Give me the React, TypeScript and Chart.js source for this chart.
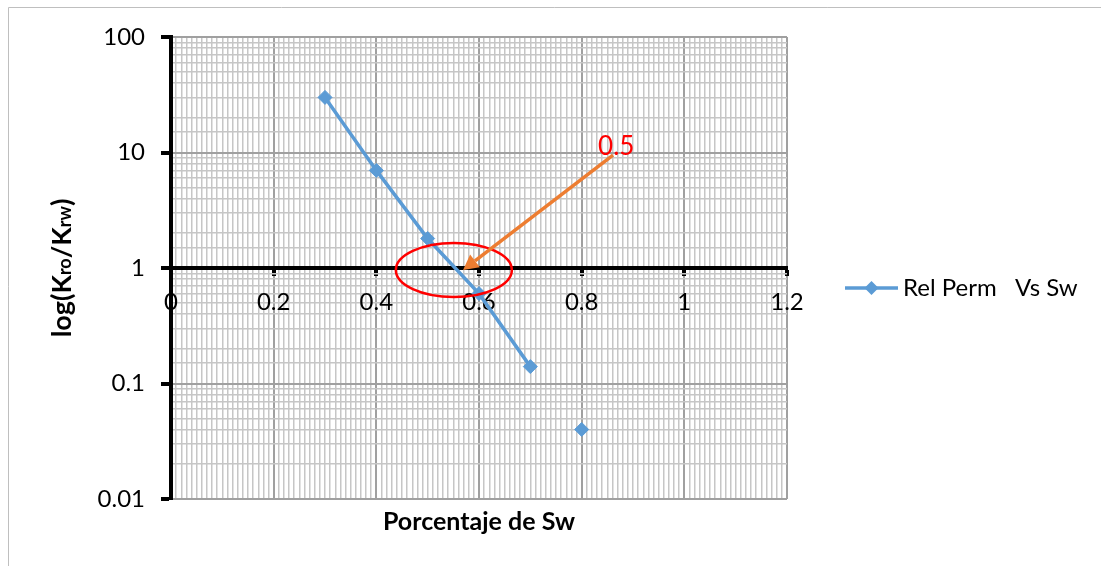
import React, { useEffect, useRef } from 'react';
import { Chart, registerables } from 'chart.js';

Chart.register(...registerables);

// ---- data ----
const swValues = [0.3, 0.4, 0.5, 0.6, 0.7, 0.8];
const krRatio = [30, 7, 1.8, 0.6, 0.14, 0.04];
const segmentDrawn = [true, true, true, true, false];
const seriesLabel = 'Rel Perm   Vs Sw';
const xTickLabels = ['0', '0.2', '0.4', '0.6', '0.8', '1', '1.2'];
const yTickLabels = ['0.01', '0.1', '1', '10', '100'];
const xTitle = 'Porcentaje de Sw';
const yTitleParts: [string, boolean][] = [
  ['log(K', false],
  ['ro', true],
  ['/K', false],
  ['rw', true],
  [')', false],
];
const calloutText = '0.5';

// ---- annotation anchors (data units) ----
const ellipseCenter = { x: 0.551, y: 0.96 };
const ellipseHalfX = 0.113; // x units
const ellipseHalfDecades = 0.234; // log decades
const arrowFrom = { x: 0.861, y: 9.5 };
const arrowTo = { x: 0.569, y: 0.96 };
const calloutAt = { x: 0.832, y: 11.2 };

const BLUE = '#5B9BD5';
const FONT = 'Lato, "Open Sans", sans-serif';

const isMajorX = (v: number) => Math.round(v * 100) % 20 === 0;
const isDecade = (v: number) => {
  const l = Math.log10(v);
  return Math.abs(l - Math.round(l)) < 1e-6;
};

const decorPlugin = {
  id: 'decor',
  beforeDraw(chart: any) {
    const ctx = chart.ctx;
    ctx.save();
    ctx.strokeStyle = '#bfbfbf';
    ctx.lineWidth = 1;
    ctx.beginPath();
    ctx.moveTo(8.5, 566);
    ctx.lineTo(8.5, 7.5);
    ctx.lineTo(1101, 7.5);
    ctx.stroke();
    ctx.restore();
  },
  afterDraw(chart: any) {
    const { ctx, chartArea } = chart;
    const x = chart.scales.x;
    const y = chart.scales.y;
    ctx.save();

    // x title
    ctx.fillStyle = '#000';
    ctx.font = `bold 25px ${FONT}`;
    ctx.textAlign = 'center';
    ctx.textBaseline = 'middle';
    ctx.fillText(xTitle, (chartArea.left + chartArea.right) / 2, chartArea.bottom + 23);

    // y title (rotated, with small letters)
    ctx.save();
    ctx.translate(62, (chartArea.top + chartArea.bottom) / 2);
    ctx.rotate(-Math.PI / 2);
    ctx.textAlign = 'left';
    ctx.textBaseline = 'alphabetic';
    const bigFont = `bold 27px ${FONT}`;
    const smallFont = `bold 18px ${FONT}`;
    let total = 0;
    for (const [t, small] of yTitleParts) {
      ctx.font = small ? smallFont : bigFont;
      total += ctx.measureText(t).width;
    }
    let cx = -total / 2;
    for (const [t, small] of yTitleParts) {
      ctx.font = small ? smallFont : bigFont;
      ctx.fillText(t, cx, 9);
      cx += ctx.measureText(t).width;
    }
    ctx.restore();

    // ellipse
    const ex = x.getPixelForValue(ellipseCenter.x);
    const ey = y.getPixelForValue(ellipseCenter.y);
    const rx = x.getPixelForValue(ellipseCenter.x + ellipseHalfX) - ex;
    const ry = y.getPixelForValue(1) - y.getPixelForValue(Math.pow(10, ellipseHalfDecades));
    ctx.strokeStyle = '#FF0000';
    ctx.lineWidth = 2.5;
    ctx.beginPath();
    ctx.ellipse(ex, ey, rx, ry, 0, 0, Math.PI * 2);
    ctx.stroke();

    // arrow
    const ax1 = x.getPixelForValue(arrowFrom.x);
    const ay1 = y.getPixelForValue(arrowFrom.y);
    const ax2 = x.getPixelForValue(arrowTo.x);
    const ay2 = y.getPixelForValue(arrowTo.y);
    const ang = Math.atan2(ay2 - ay1, ax2 - ax1);
    const headLen = 15;
    const headHalf = 8;
    const bx = ax2 - Math.cos(ang) * headLen;
    const by = ay2 - Math.sin(ang) * headLen;
    ctx.strokeStyle = '#ED7D31';
    ctx.fillStyle = '#ED7D31';
    ctx.lineWidth = 3.5;
    ctx.beginPath();
    ctx.moveTo(ax1, ay1);
    ctx.lineTo(bx, by);
    ctx.stroke();
    ctx.beginPath();
    ctx.moveTo(ax2, ay2);
    ctx.lineTo(bx + Math.sin(ang) * headHalf, by - Math.cos(ang) * headHalf);
    ctx.lineTo(bx - Math.sin(ang) * headHalf, by + Math.cos(ang) * headHalf);
    ctx.closePath();
    ctx.fill();

    // callout text
    ctx.fillStyle = '#FF0000';
    ctx.font = `26px ${FONT}`;
    ctx.textAlign = 'left';
    ctx.textBaseline = 'middle';
    ctx.fillText(calloutText, x.getPixelForValue(calloutAt.x), y.getPixelForValue(calloutAt.y));

    // legend
    const ly = y.getPixelForValue(1) + 20;
    const lx = chartArea.right + 58;
    ctx.strokeStyle = BLUE;
    ctx.fillStyle = BLUE;
    ctx.lineWidth = 3.5;
    ctx.beginPath();
    ctx.moveTo(lx, ly);
    ctx.lineTo(lx + 53, ly);
    ctx.stroke();
    const mx = lx + 26.5;
    const r = 7;
    ctx.beginPath();
    ctx.moveTo(mx, ly - r);
    ctx.lineTo(mx + r, ly);
    ctx.lineTo(mx, ly + r);
    ctx.lineTo(mx - r, ly);
    ctx.closePath();
    ctx.fill();
    ctx.fillStyle = '#000';
    ctx.font = `24px ${FONT}`;
    ctx.textAlign = 'left';
    ctx.textBaseline = 'middle';
    ctx.fillText(seriesLabel, lx + 58, ly);

    ctx.restore();
  },
};

export default function App() {
  const ref = useRef<HTMLCanvasElement | null>(null);

  useEffect(() => {
    if (!ref.current) return;
    const chart = new Chart(ref.current, {
      type: 'line',
      data: {
        datasets: [
          {
            label: seriesLabel,
            data: swValues.map((v, i) => ({ x: v, y: krRatio[i] })),
            borderColor: BLUE,
            backgroundColor: BLUE,
            borderWidth: 3.5,
            pointStyle: 'rectRot',
            pointRadius: 7,
            pointBorderWidth: 1,
            pointBackgroundColor: BLUE,
            pointBorderColor: BLUE,
            tension: 0,
            segment: {
              borderColor: (c: any) => (segmentDrawn[c.p0DataIndex] ? BLUE : 'rgba(0,0,0,0)'),
            },
          },
        ],
      },
      options: {
        animation: false,
        responsive: false,
        layout: { padding: { left: 0, top: 37, right: 314, bottom: 67 } },
        plugins: { legend: { display: false }, tooltip: { enabled: false } },
        scales: {
          x: {
            type: 'linear',
            min: 0,
            max: 1.2,
            position: { y: 1 } as any,
            border: { display: true, color: '#000', width: 4 },
            grid: {
              color: (c: any) => (c.tick && isMajorX(c.tick.value) ? '#a0a0a0' : '#c6c6c6'),
              lineWidth: (c: any) => (c.tick && isMajorX(c.tick.value) ? 2 : 1.5),
              tickColor: (c: any) => (c.tick && isMajorX(c.tick.value) ? '#000' : 'rgba(0,0,0,0)'),
              tickWidth: 4,
              tickLength: 6,
            },
            ticks: {
              stepSize: 0.01,
              autoSkip: false,
              maxRotation: 0,
              minRotation: 0,
              padding: 14,
              color: '#000',
              font: { family: FONT, size: 24 },
              callback: (v: any) => {
                const n = Math.round(Number(v) * 100);
                return n % 20 === 0 ? xTickLabels[n / 20] : '';
              },
            },
          },
          y: {
            type: 'logarithmic',
            min: 0.01,
            max: 100,
            position: 'left',
            afterFit: (s: any) => {
              s.width = 171;
            },
            border: { display: true, color: '#000', width: 4 },
            grid: {
              color: (c: any) => (c.tick && isDecade(c.tick.value) ? '#a0a0a0' : '#c6c6c6'),
              lineWidth: (c: any) => (c.tick && isDecade(c.tick.value) ? 2 : 1.5),
              tickColor: (c: any) => (c.tick && isDecade(c.tick.value) ? '#000' : 'rgba(0,0,0,0)'),
              tickWidth: 4,
              tickLength: 10,
            },
            ticks: {
              autoSkip: false,
              padding: 16,
              color: '#000',
              font: { family: FONT, size: 24 },
              callback: (v: any) => {
                const n = Number(v);
                if (!isDecade(n)) return '';
                return yTickLabels[Math.round(Math.log10(n)) + 2];
              },
            },
          },
        },
      },
      plugins: [decorPlugin],
    });
    return () => chart.destroy();
  }, []);

  return (
    <div style={{ position: 'absolute', left: 0, top: 0, width: 1101, height: 566, background: '#fff' }}>
      <canvas ref={ref} width={1101} height={566} style={{ display: 'block' }} />
    </div>
  );
}
